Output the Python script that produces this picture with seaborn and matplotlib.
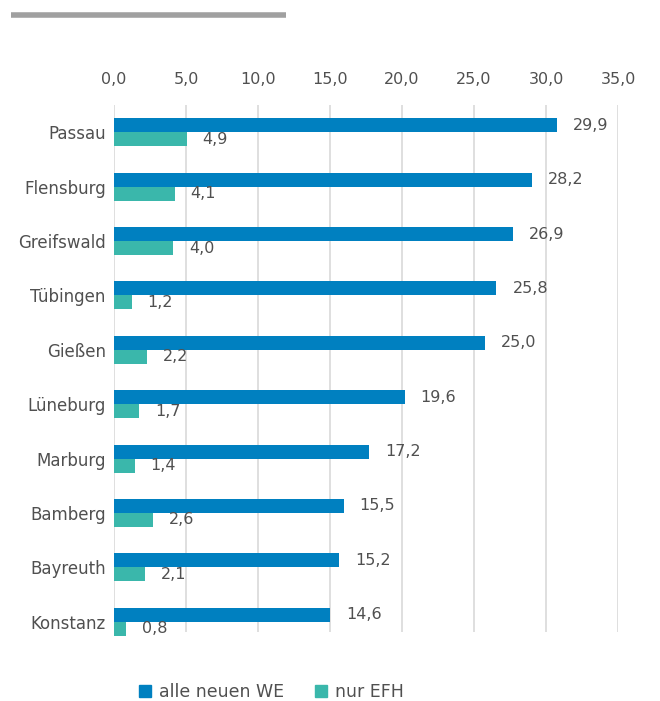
import matplotlib
matplotlib.use("Agg")
import matplotlib.pyplot as plt
import seaborn as sns
import pandas as pd
from matplotlib.lines import Line2D

cities = ["Passau", "Flensburg", "Greifswald", "Tübingen", "Gießen",
          "Lüneburg", "Marburg", "Bamberg", "Bayreuth", "Konstanz"]
alle_we = [29.9, 28.2, 26.9, 25.8, 25.0, 19.6, 17.2, 15.5, 15.2, 14.6]
nur_efh = [4.9, 4.1, 4.0, 1.2, 2.2, 1.7, 1.4, 2.6, 2.1, 0.8]
series = ["alle neuen WE", "nur EFH"]
xticks = [0, 5, 10, 15, 20, 25, 30, 35]

colors = {"alle neuen WE": "#0080C0", "nur EFH": "#3AB7AB"}
txt = "#505050"
FS = 11.5

df = pd.DataFrame({
    "Stadt": cities * 2,
    "Wert": alle_we + nur_efh,
    "Serie": [series[0]] * len(cities) + [series[1]] * len(cities),
})

sns.set_style("white")
plt.rcParams["font.family"] = ["DejaVu Sans"]

fig = plt.figure(figsize=(6.6, 7.01), dpi=100)
ax = fig.add_axes([0.1727, 0.0742, 0.7637, 0.7760])

sns.barplot(data=df, y="Stadt", x="Wert", hue="Serie", orient="h",
            palette=colors, width=0.515, ax=ax, legend=False,
            saturation=1, linewidth=0)
ylim = ax.get_ylim()

# bars are drawn on a slightly different scale than the gridlines (as in the original)
ax.set_xlim(0, 34.0)
ax.set_xticks([])
ax.tick_params(axis="y", length=0, pad=6, labelsize=FS + 0.5, labelcolor=txt)
ax.set_xlabel("")
ax.set_ylabel("")
for s in ax.spines.values():
    s.set_visible(False)

ax2 = ax.twiny()
ax2.set_xlim(0, 35)
ax2.set_xticks(xticks)
ax2.set_xticklabels([f"{v:.1f}".replace(".", ",") for v in xticks],
                    fontsize=FS, color=txt)
ax2.xaxis.tick_top()
ax2.tick_params(axis="x", length=0, pad=13)
for s in ax2.spines.values():
    s.set_visible(False)
ax2.vlines(xticks, 0.031, 1.0, transform=ax2.get_xaxis_transform(),
           color="#D9D9D9", linewidth=1.2)
ax.set_ylim(ylim)
ax.set_zorder(ax2.get_zorder() + 1)
ax.patch.set_visible(False)

for cont in ax.containers:
    labels = [f"{v:.1f}".replace(".", ",") for v in cont.datavalues]
    ax.bar_label(cont, labels=labels, padding=11.5, fontsize=FS, color=txt)

# decorative grey line at top
fig.add_artist(Line2D([11 / 660, 286 / 660], [1 - 14.5 / 701, 1 - 14.5 / 701],
                      color="#A0A0A0", linewidth=4, solid_capstyle="butt"))

handles = [Line2D([], [], marker="s", linestyle="none", markersize=8,
                  color=colors[s]) for s in series]
fig.legend(handles, series, loc="center", bbox_to_anchor=(0.409, 0.013),
           ncol=2, frameon=False, fontsize=FS + 1, labelcolor=txt,
           handletextpad=0.3, columnspacing=1.6, handlelength=1.0)

fig.savefig("out.png", dpi=100)
